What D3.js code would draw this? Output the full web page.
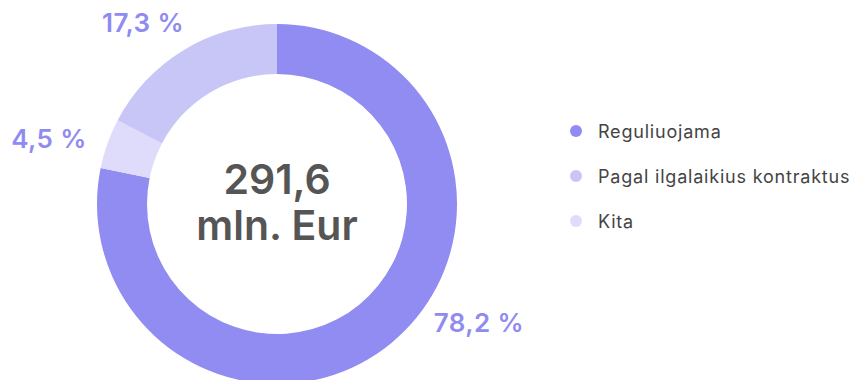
<!DOCTYPE html>
<html>
<head>
<meta charset="utf-8">
<script src="https://cdn.jsdelivr.net/npm/d3@7"></script>
<style>
  html, body { margin: 0; padding: 0; background: #fff; }
  svg { display: block; font-family: Inter, "Noto Sans", sans-serif; }
</style>
</head>
<body>
<svg id="chart" width="852" height="380"></svg>
<script>
// Revenue structure, share of total (%)
const categories = ["Reguliuojama", "Kita", "Pagal ilgalaikius kontraktus"];
const shares = [78.2, 4.5, 17.3];
const colors = ["#908cf1", "#dedcfa", "#c8c6f7"];
const shareLabels = ["78,2 %", "4,5 %", "17,3 %"];
const legendOrder = ["Reguliuojama", "Pagal ilgalaikius kontraktus", "Kita"];
const totalLabel = ["291,6", "mln. Eur"];

const svg = d3.select("#chart");
const cx = 277, cy = 204;
const outerR = 180, innerR = 130;

const data = categories.map((c, i) => ({ name: c, value: shares[i], color: colors[i], label: shareLabels[i] }));

const pie = d3.pie().value(d => d.value).sort(null);
const arc = d3.arc().innerRadius(innerR).outerRadius(outerR);
const arcs = pie(data);

const g = svg.append("g").attr("transform", `translate(${cx},${cy})`);

g.selectAll("path")
  .data(arcs)
  .join("path")
  .attr("d", arc)
  .attr("fill", d => d.data.color);

// Percentage labels placed outside the ring
const labelPos = {
  "Reguliuojama": [202, 128],
  "Kita": [-228, -56],
  "Pagal ilgalaikius kontraktus": [-134, -172]
};
g.selectAll("text.pct")
  .data(arcs)
  .join("text")
  .attr("class", "pct")
  .attr("x", d => labelPos[d.data.name][0])
  .attr("y", d => labelPos[d.data.name][1])
  .attr("text-anchor", "middle")
  .attr("font-size", 26)
  .attr("font-weight", 600)
  .attr("letter-spacing", 0.4)
  .attr("fill", "#8f8bf0")
  .text(d => d.data.label);

// Total in the centre
g.append("text")
  .attr("text-anchor", "middle")
  .attr("font-size", 41)
  .attr("font-weight", 600)
  .attr("fill", "#555555")
  .selectAll("tspan")
  .data(totalLabel)
  .join("tspan")
  .attr("x", 0)
  .attr("y", (d, i) => -10 + i * 46)
  .text(d => d);

// Legend
const colorOf = d3.scaleOrdinal().domain(categories).range(colors);
const legend = svg.append("g").attr("transform", "translate(576,131)");
const items = legend.selectAll("g")
  .data(legendOrder)
  .join("g")
  .attr("transform", (d, i) => `translate(0,${i * 45})`);
items.append("circle").attr("r", 6).attr("fill", d => colorOf(d));
items.append("text")
  .attr("x", 22)
  .attr("y", 6.5)
  .attr("font-size", 18)
  .attr("letter-spacing", 0.8)
  .attr("fill", "#444444")
  .text(d => d);
</script>
</body>
</html>
